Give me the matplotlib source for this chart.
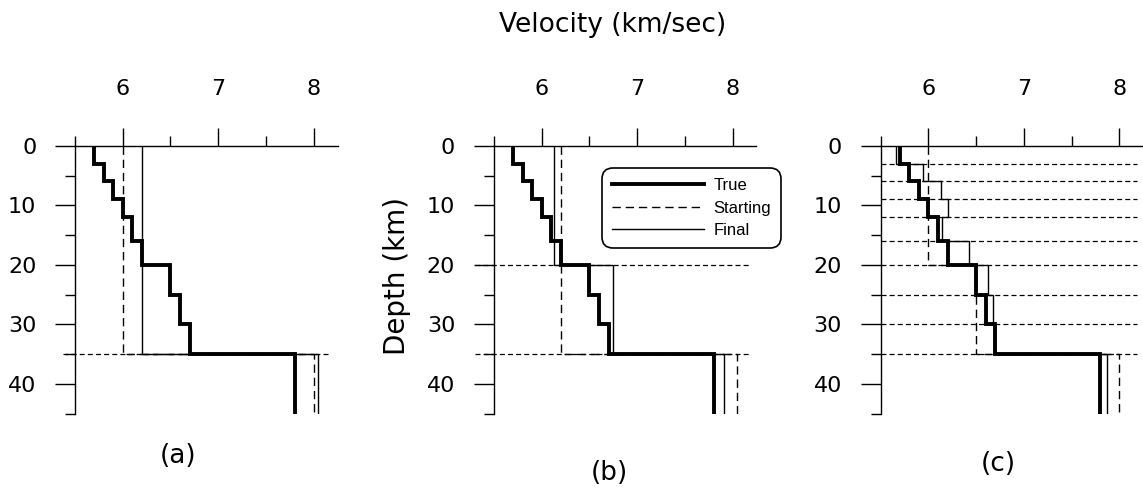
import numpy as np
import matplotlib.pyplot as plt
from matplotlib.ticker import FixedLocator

plt.rcParams['font.family'] = 'DejaVu Sans'

# true layered model: interfaces (km) and P velocities (km/s)
true_edges = [0, 3, 6, 9, 12, 16, 20, 25, 30, 35, 45]
true_vel = [5.7, 5.8, 5.9, 6.0, 6.1, 6.2, 6.5, 6.6, 6.7, 7.8]

# (a) single crustal layer over the mantle
a_bounds = [35]
a_start_edges = [0, 35, 45]
a_start = [6.0, 8.0]
a_final_edges = [0, 35, 45]
a_final = [6.2, 8.05]

# (b) two crustal layers, started from the (a) result
b_bounds = [20, 35]
b_start_edges = [0, 35, 45]
b_start = [6.2, 8.05]
b_final_edges = [0, 20, 35, 45]
b_final = [6.13, 6.75, 7.91]

# (c) full layering
c_bounds = [3, 6, 9, 12, 16, 20, 25, 30, 35]
c_start_edges = [0, 20, 35, 45]
c_start = [6.0, 6.5, 8.0]
c_final_edges = true_edges
c_final = [5.66, 5.94, 6.13, 6.21, 6.14, 6.42, 6.62, 6.68, 6.70, 7.87]

panel_names = ['(a)', '(b)', '(c)']

W, H = 1143, 492
fig = plt.figure(figsize=(W / 100, H / 100), dpi=100)

lefts = [75, 494, 880.7]
top_px, bot_px = 145.8, 413.5
ax_w = 262.5
bound_x0 = [5.37, 5.3, 5.5]
label_pos = [(178, 456), (609, 473), (998, 464)]

models = [
    (a_bounds, a_start_edges, a_start, a_final_edges, a_final),
    (b_bounds, b_start_edges, b_start, b_final_edges, b_final),
    (c_bounds, c_start_edges, c_start, c_final_edges, c_final),
]

axes = []
for i, (bounds, se, sv, fe, fv) in enumerate(models):
    ax = fig.add_axes([lefts[i] / W, 1 - bot_px / H, ax_w / W, (bot_px - top_px) / H])
    axes.append(ax)

    # inversion layer interfaces
    ax.hlines(bounds, bound_x0[i], 8.18, colors='k', lw=0.9,
              linestyles=(0, (4, 2.5)), clip_on=False, zorder=1)

    ax.stairs(sv, se, orientation='horizontal', baseline=None, color='k',
              lw=1.0, linestyle=(0, (6, 3.5)), label='Starting', zorder=2)
    ax.stairs(fv, fe, orientation='horizontal', baseline=None, color='k',
              lw=1.0, label='Final', zorder=3)
    ax.stairs(true_vel, true_edges, orientation='horizontal', baseline=None,
              color='k', lw=2.8, label='True', zorder=4)

    ax.set_xlim(5.5, 8.25)
    ax.set_ylim(45, 0)
    for s in ['right', 'bottom']:
        ax.spines[s].set_visible(False)
    for s in ['left', 'top']:
        ax.spines[s].set_linewidth(1.0)

    ax.xaxis.set_major_locator(FixedLocator([6, 7, 8]))
    ax.xaxis.set_minor_locator(FixedLocator([5.5, 6.5, 7.5]))
    ax.yaxis.set_major_locator(FixedLocator([0, 10, 20, 30, 40]))
    ax.yaxis.set_minor_locator(FixedLocator([5, 15, 25, 35, 45]))
    ax.xaxis.tick_top()
    ax.tick_params(axis='x', which='major', length=13, width=1.0, pad=21,
                   labelsize=16, direction='out')
    ax.tick_params(axis='x', which='minor', length=7, width=1.0, direction='out')
    ax.tick_params(axis='y', which='major', length=14.4, width=1.0, pad=13.5,
                   labelsize=16, direction='out')
    ax.tick_params(axis='y', which='minor', length=7, width=1.0, direction='out')

    lx, ly = label_pos[i]
    fig.text(lx / W, 1 - ly / H, panel_names[i], fontsize=19,
             ha='center', va='center')

# legend sits in the middle panel
h, l = axes[1].get_legend_handles_labels()
order = [l.index('True'), l.index('Starting'), l.index('Final')]
leg_font = {'family': ['Liberation Sans Narrow', 'Liberation Sans'], 'size': 12}
leg = axes[1].legend([h[k] for k in order], [l[k] for k in order],
                     loc='upper left', bbox_to_anchor=(602 / W, 1 - 168 / H),
                     bbox_transform=fig.transFigure, borderaxespad=0,
                     prop=leg_font, handlelength=5.5, handletextpad=0.58,
                     labelspacing=0.45, borderpad=0.6, fancybox=True,
                     framealpha=1, edgecolor='k')
leg.get_frame().set_linewidth(1.2)
leg.get_frame().set_boxstyle('round,pad=0,rounding_size=0.65')

fig.text(613 / W, 1 - 25 / H, 'Velocity (km/sec)', fontsize=19,
         ha='center', va='center')
fig.text(397 / W, 1 - 276 / H, 'Depth (km)', fontsize=20, rotation=90,
         ha='center', va='center')

fig.savefig('out.png', dpi=100)
